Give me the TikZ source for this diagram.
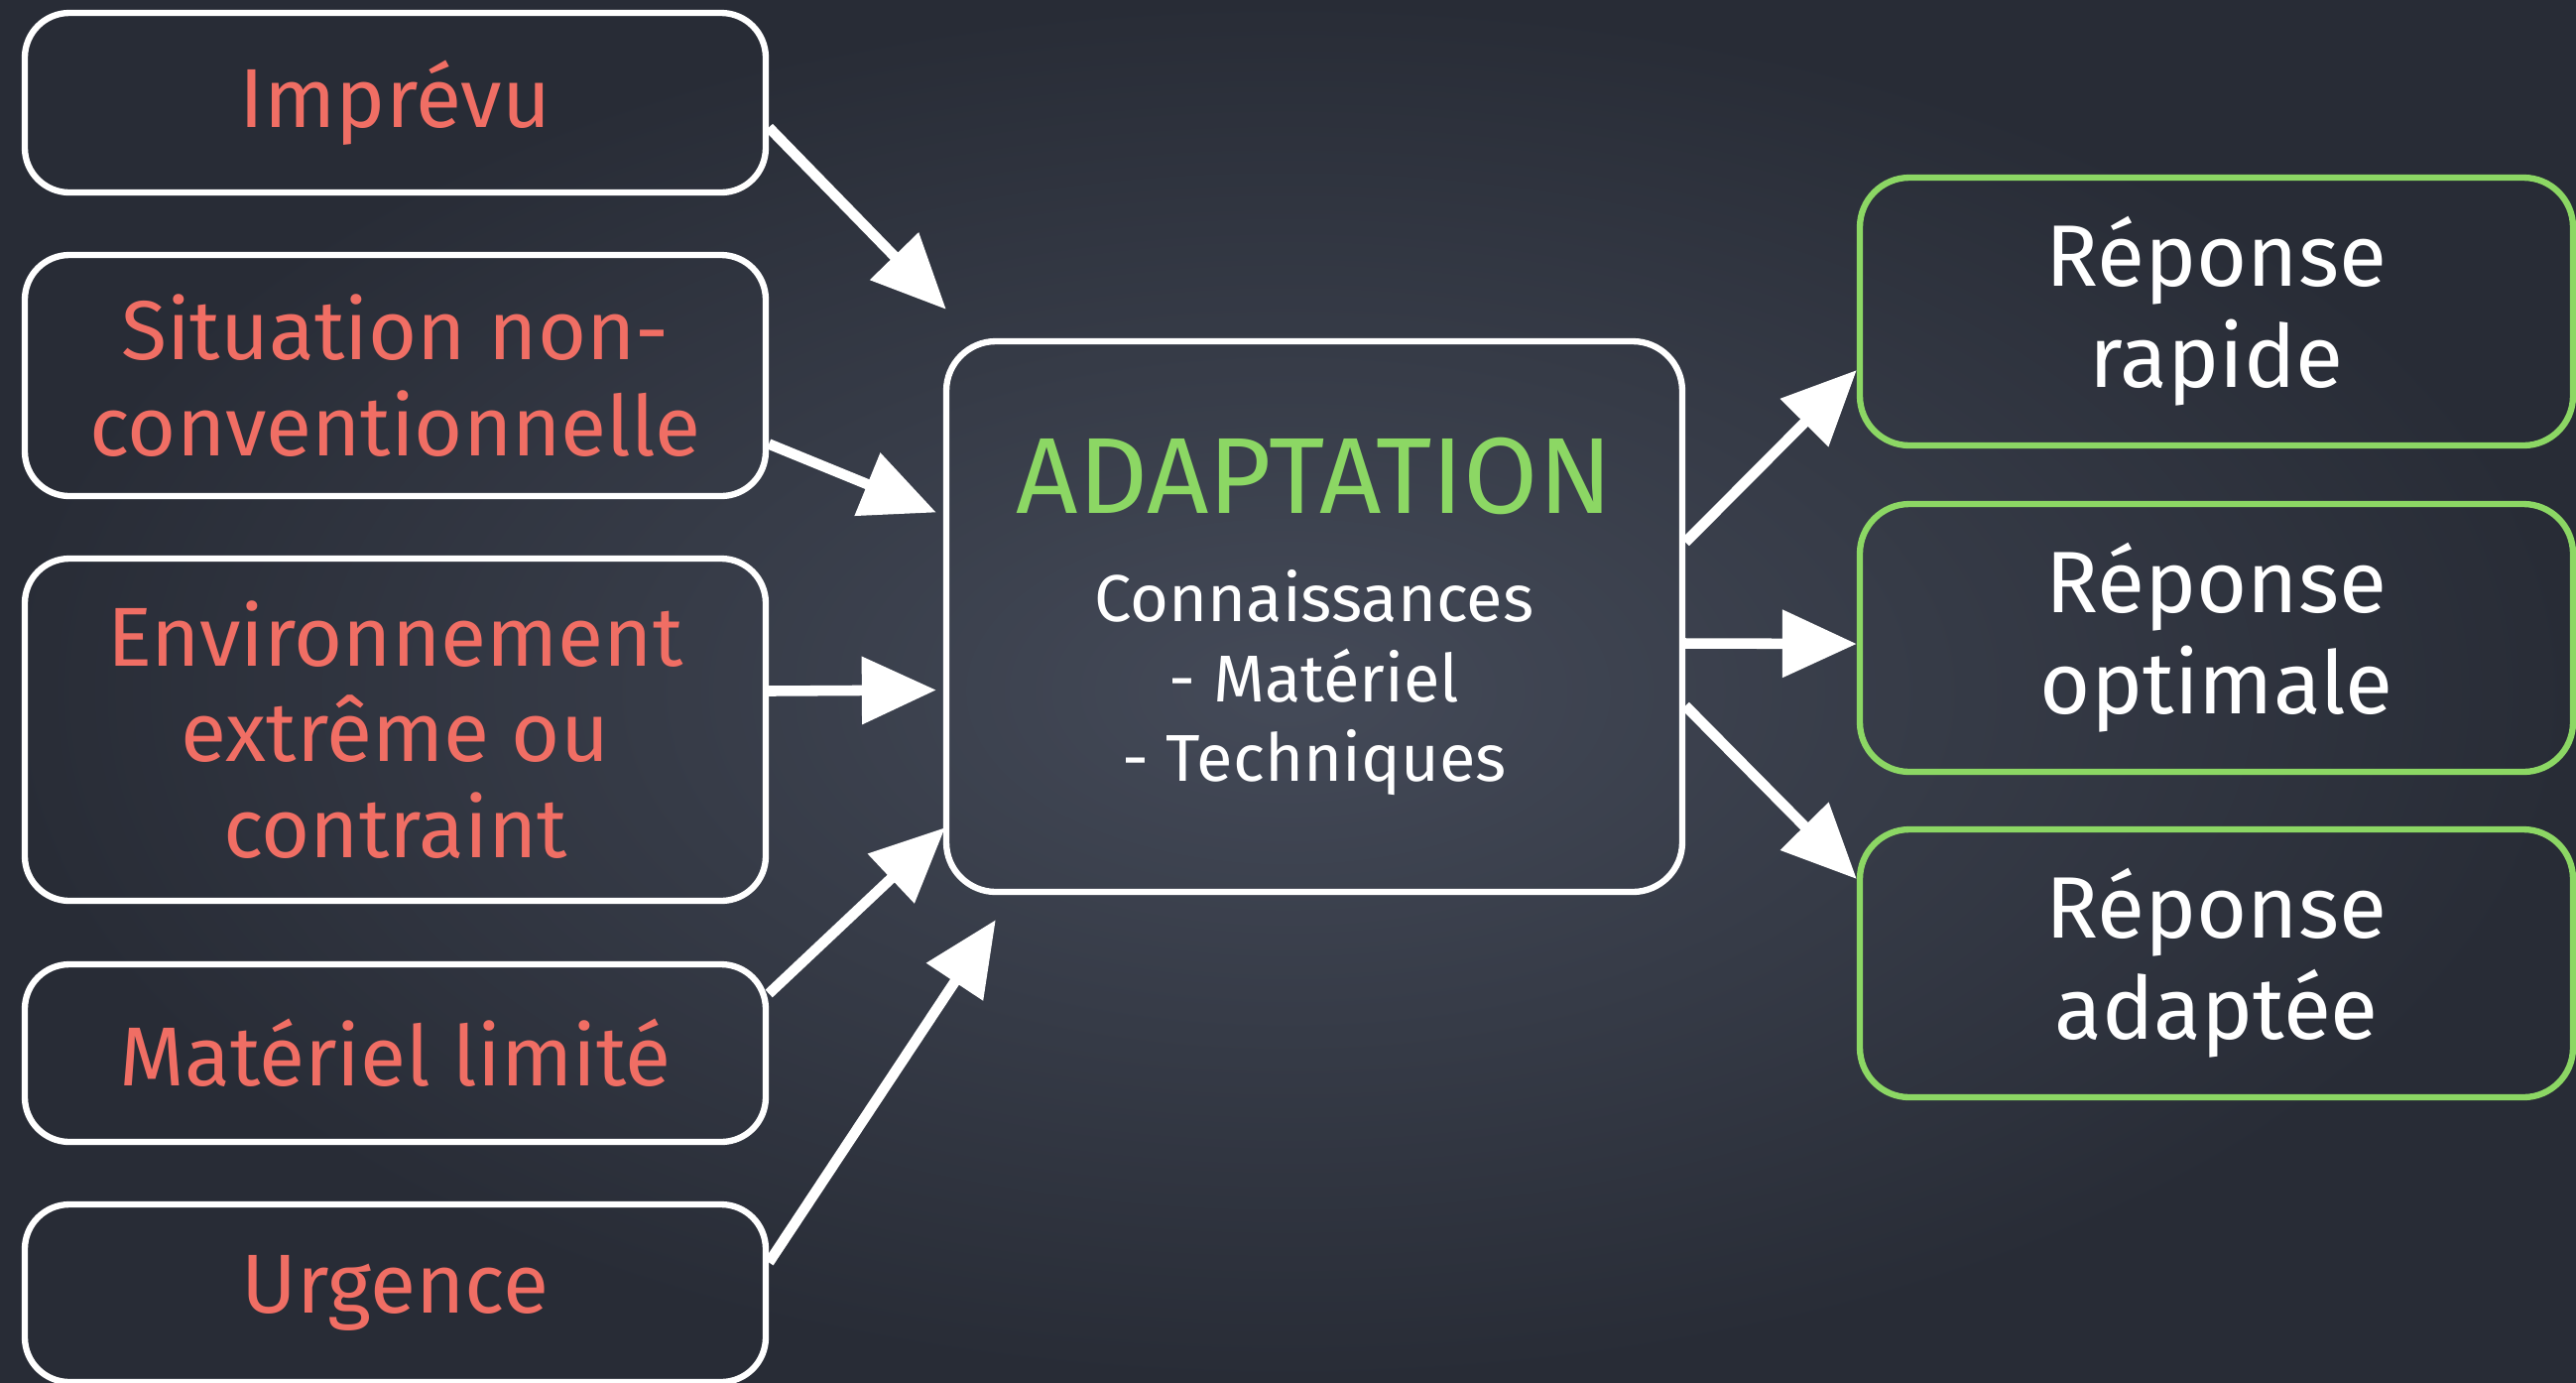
\documentclass[tikz,border=0pt]{standalone}
\usepackage{fontspec}
\setmainfont{Fira Sans}
\usetikzlibrary{arrows.meta}
\definecolor{boardmid}{RGB}{68,74,88}
\definecolor{boarddark}{RGB}{40,44,54}
\definecolor{chalkred}{RGB}{240,110,100}
\definecolor{chalkgreen}{RGB}{140,215,100}
\begin{document}
\begin{tikzpicture}[
    cause/.style={draw=white,line width=1.8pt,rounded corners=0.45cm,minimum width=7.47cm,
      text=chalkred,align=center,font=\fontsize{24}{27.5}\selectfont},
    result/.style={draw=chalkgreen,line width=1.8pt,rounded corners=0.5cm,minimum width=7.19cm,
      minimum height=2.7cm,text=white,align=center,font=\fontsize{25}{29}\selectfont},
    core/.style={draw=white,line width=1.8pt,rounded corners=0.5cm,minimum width=7.42cm,
      minimum height=5.55cm,text=white,align=center,font=\fontsize{19}{23}\selectfont},
    chalkarrow/.style={draw=white,line width=3pt,-{Triangle[length=0.75cm,width=0.66cm]}}
  ]
  \shade[inner color=boardmid,outer color=boarddark] (0,0) rectangle (25.97,-13.93);
  \useasboundingbox (0,0) rectangle (25.97,-13.93);
  \draw
    (3.985,-1.035) node[cause,minimum height=1.81cm] (imprevu){Imprévu}
    (3.985,-3.785) node[cause,minimum height=2.43cm] (situation){Situation non-\\conventionnelle}
    (3.985,-7.355) node[cause,minimum height=3.45cm] (environnement){Environnement\\extrême ou\\contraint}
    (3.985,-10.615) node[cause,minimum height=1.79cm] (materiel){Matériel limité}
    (3.985,-13.035) node[cause,minimum height=1.79cm] (urgence){Urgence}
    (13.25,-6.215) node[core] (adaptation){\textcolor{chalkgreen}{\fontsize{31}{35}\selectfont ADAPTATION}\\[8pt]
      Connaissances\\- Matériel\\- Techniques}
    (22.345,-3.14) node[result] (rapide){Réponse\\rapide}
    (22.345,-6.43) node[result] (optimale){Réponse\\optimale}
    (22.345,-9.71) node[result] (adaptee){Réponse\\adaptée};
  \begin{scope}[chalkarrow]
    \draw ([yshift=-0.25cm]imprevu.east) to ([shift={(0.03,0.29)}]adaptation.north west);
    \draw ([yshift=-0.69cm]situation.east) to ([shift={(-0.07,1.05)}]adaptation.west);
    \draw ([yshift=0.39cm]environnement.east) to ([shift={(-0.07,-0.74)}]adaptation.west);
    \draw ([yshift=0.6cm]materiel.east) to ([shift={(0.02,0.68)}]adaptation.south west);
    \draw ([yshift=0.31cm]urgence.east) to ([shift={(0.53,-0.25)}]adaptation.south west);
    \draw ([yshift=0.75cm]adaptation.east) to ([yshift=-0.59cm]rapide.west);
    \draw ([yshift=-0.27cm]adaptation.east) to ([yshift=-0.06cm]optimale.west);
    \draw ([yshift=-0.9cm]adaptation.east) to ([yshift=0.85cm]adaptee.west);
  \end{scope}
\end{tikzpicture}
\end{document}
